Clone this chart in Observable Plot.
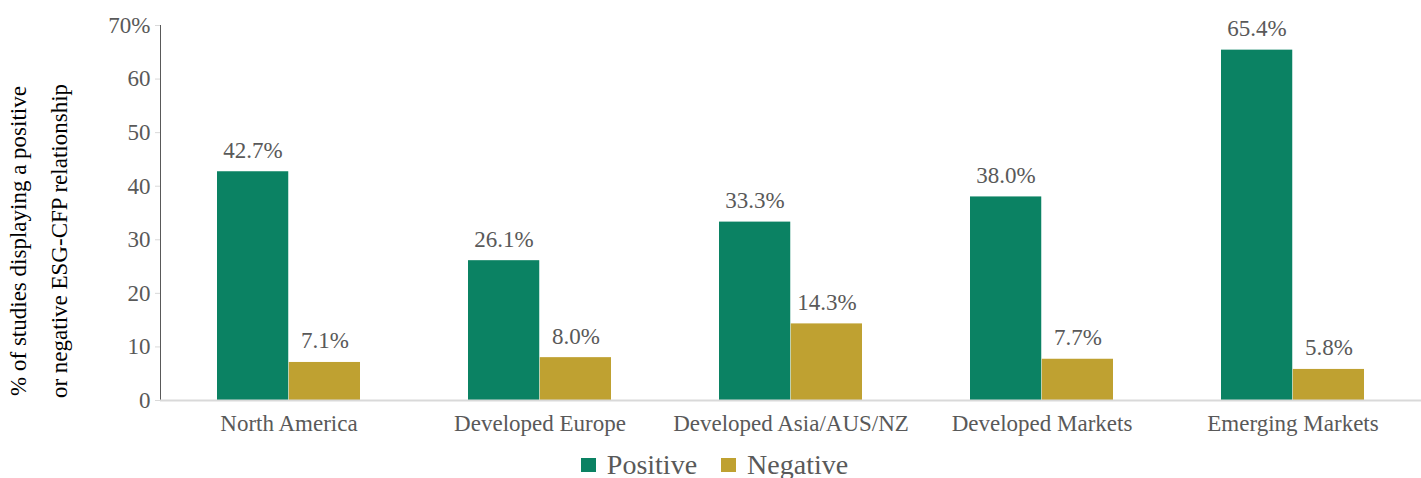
<!DOCTYPE html>
<html>
<head>
<meta charset="utf-8">
<script src="https://cdn.jsdelivr.net/npm/d3@7"></script>
<script src="https://cdn.jsdelivr.net/npm/@observablehq/plot@0.6"></script>
<style>
  body { margin: 0; background: #fff; font-family: "Liberation Serif", Tinos, "Times New Roman", serif; }
  #legend { display: flex; justify-content: center; align-items: center; height: 38px; padding-top: 6px; padding-left: 8px; font-size: 28px; color: #595959; }
  #legend .item { display: flex; align-items: center; margin: 0 12px; }
  #legend .sw { width: 15px; height: 14px; margin-right: 11px; display: inline-block; }
</style>
</head>
<body>
<div id="chart"></div>
<div id="legend"></div>
<script>
const regions = ["North America", "Developed Europe", "Developed Asia/AUS/NZ", "Developed Markets", "Emerging Markets"];
const positive = [42.7, 26.1, 33.3, 38.0, 65.4];
const negative = [7.1, 8.0, 14.3, 7.7, 5.8];
const seriesNames = ["Positive", "Negative"];
const seriesColors = ["#0b8263", "#bfa131"];
const yTicks = [0, 10, 20, 30, 40, 50, 60, 70];
const yLabel = "% of studies displaying a positive\nor negative ESG-CFP relationship";

const posData = regions.map((r, i) => ({region: r, value: positive[i]}));
const negData = regions.map((r, i) => ({region: r, value: negative[i]}));
const textColor = "#595959";
const serif = "'Liberation Serif', Tinos, 'Times New Roman', serif";
const fmt = v => v.toFixed(1) + "%";

const chart = Plot.plot({
  width: 1421,
  height: 440,
  marginLeft: 160,
  marginRight: 0,
  marginTop: 25,
  marginBottom: 40,
  style: { fontFamily: serif, fontSize: "23px", color: textColor, background: "#fff" },
  x: { domain: regions, paddingInner: 0.43, paddingOuter: 0.22, tickSize: 0, tickPadding: 14, label: null },
  y: { domain: [0, 70], ticks: yTicks, tickSize: 5, tickPadding: 5, label: null, line: true,
       tickFormat: d => d === 70 ? "70%" : String(d) },
  marks: [
    Plot.barY(posData, { x: "region", y: "value", fill: seriesColors[0], insetRight: 71.75 }),
    Plot.barY(negData, { x: "region", y: "value", fill: seriesColors[1], insetLeft: 71.75 }),
    Plot.ruleY([0], { stroke: "#d9d9d9", strokeWidth: 2 }),
    Plot.text(posData, { x: "region", y: "value", text: d => fmt(d.value), dx: -36, dy: -14, lineAnchor: "bottom", fill: textColor, fontSize: 23 }),
    Plot.text(negData, { x: "region", y: "value", text: d => fmt(d.value), dx: 36, dy: -14, lineAnchor: "bottom", fill: textColor, fontSize: 23 }),
    Plot.text([yLabel], { frameAnchor: "left", text: d => d, rotate: -90, dx: -127, dy: 28, lineHeight: 1.8, fill: "#000", fontSize: 23, textAnchor: "middle" })
  ]
});
d3.select(chart).selectAll("[aria-label='y-axis'] path, [aria-label='y-axis tick'] path").attr("stroke", "#d9d9d9");
document.getElementById("chart").appendChild(chart);

const legend = document.getElementById("legend");
seriesNames.forEach((n, i) => {
  const item = document.createElement("span");
  item.className = "item";
  const sw = document.createElement("span");
  sw.className = "sw";
  sw.style.background = seriesColors[i];
  item.appendChild(sw);
  item.appendChild(document.createTextNode(n));
  legend.appendChild(item);
});
</script>
</body>
</html>
